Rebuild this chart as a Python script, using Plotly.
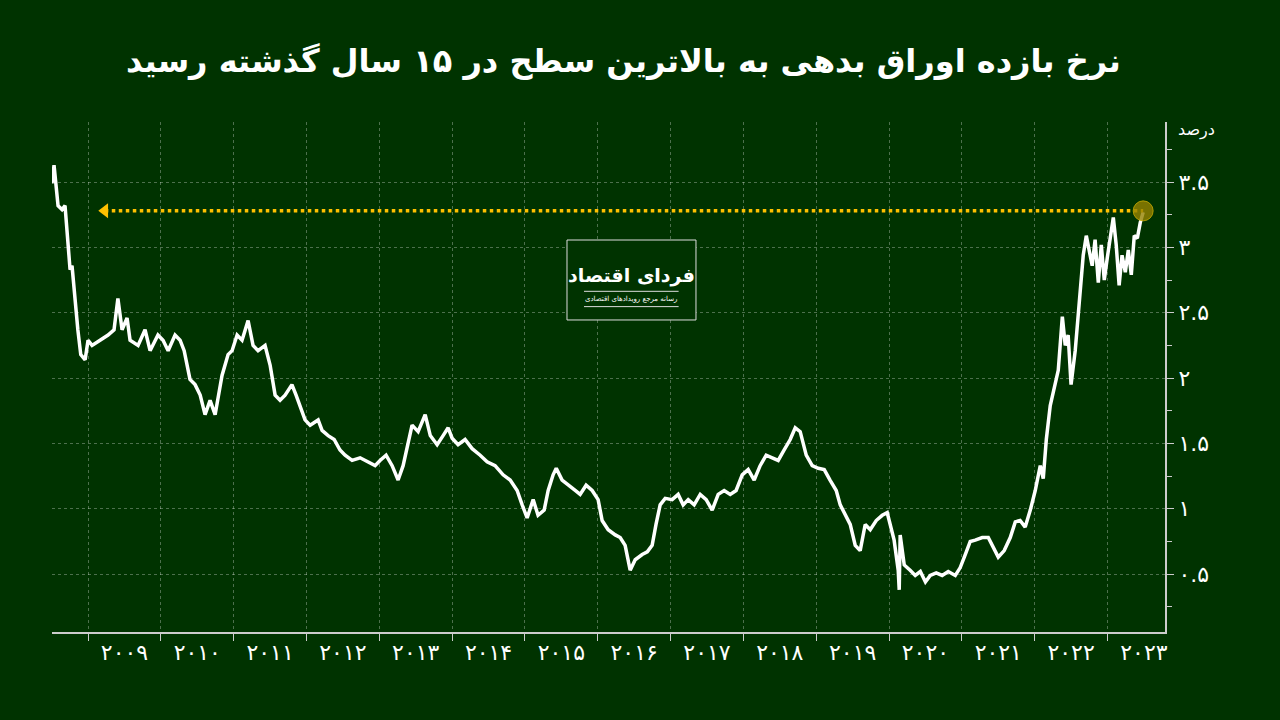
import plotly.graph_objects as go

years = [2008.505,2008.533,2008.588,2008.643,2008.684,2008.712,2008.753,2008.78,2008.82,2008.86,2008.90,2008.96,
2009.00,2009.055,2009.165,2009.275,2009.357,2009.41,2009.467,2009.536,2009.577,2009.687,2009.783,2009.852,2009.96,
2010.03,2010.10,2010.195,2010.264,2010.32,2010.40,2010.47,2010.54,2010.607,2010.676,2010.745,2010.84,2010.923,2010.978,
2011.047,2011.115,2011.198,2011.266,2011.335,2011.431,2011.50,2011.569,2011.637,2011.706,2011.80,2011.857,2011.912,2011.98,
2012.05,2012.16,2012.214,2012.297,2012.38,2012.46,2012.53,2012.626,2012.736,2012.846,2012.942,
2013.01,2013.093,2013.176,2013.258,2013.327,2013.396,2013.45,2013.533,2013.63,2013.70,2013.794,2013.876,2013.945,
2014.00,2014.082,2014.178,2014.275,2014.385,2014.48,2014.59,2014.70,2014.797,2014.893,2014.962,
2015.03,2015.113,2015.18,2015.264,2015.319,2015.387,2015.43,2015.51,2015.593,2015.69,2015.758,2015.84,2015.923,
2016.005,2016.06,2016.143,2016.24,2016.308,2016.376,2016.445,2016.514,2016.61,2016.68,2016.747,2016.80,2016.857,2016.926,
2017.022,2017.104,2017.173,2017.242,2017.324,2017.407,2017.489,2017.571,2017.654,2017.736,2017.819,2017.90,2017.984,
2018.066,2018.148,2018.23,2018.313,2018.396,2018.478,2018.56,2018.643,2018.712,2018.78,2018.863,2018.945,
2019.027,2019.11,2019.19,2019.275,2019.33,2019.398,2019.467,2019.536,2019.604,2019.673,2019.742,2019.824,2019.907,2019.975,
2020.016,2020.07,2020.126,2020.14,2020.153,2020.209,2020.29,2020.36,2020.43,2020.50,2020.566,2020.648,2020.73,2020.813,2020.91,2020.978,
2021.047,2021.115,2021.184,2021.28,2021.363,2021.418,2021.50,2021.582,2021.665,2021.734,2021.80,2021.87,2021.94,
2022.008,2022.077,2022.118,2022.16,2022.214,2022.283,2022.324,2022.38,2022.42,2022.46,2022.50,2022.557,2022.626,2022.667,
2022.709,2022.75,2022.79,2022.83,2022.874,2022.915,2022.956,2022.997,
2023.038,2023.08,2023.12,2023.16,2023.20,2023.245,2023.286,2023.327,2023.368,2023.41,2023.45,2023.49]

rates = [3.49,3.63,3.32,3.29,3.32,3.13,2.83,2.86,2.60,2.37,2.18,2.14,
2.29,2.25,2.29,2.33,2.37,2.61,2.37,2.46,2.29,2.25,2.37,2.21,2.33,
2.29,2.21,2.33,2.29,2.21,1.99,1.95,1.87,1.72,1.83,1.72,2.02,2.18,2.21,
2.33,2.29,2.44,2.25,2.21,2.25,2.10,1.87,1.83,1.87,1.95,1.87,1.79,1.68,
1.64,1.68,1.60,1.56,1.53,1.45,1.41,1.37,1.39,1.36,1.33,
1.37,1.41,1.33,1.22,1.33,1.49,1.64,1.59,1.72,1.56,1.49,1.56,1.62,
1.54,1.49,1.53,1.46,1.41,1.36,1.33,1.26,1.22,1.14,1.03,
0.93,1.07,0.95,0.99,1.14,1.26,1.31,1.22,1.18,1.14,1.11,1.18,1.14,
1.07,0.91,0.84,0.80,0.78,0.72,0.53,0.61,0.65,0.67,0.72,0.88,1.03,1.08,
1.07,1.11,1.03,1.07,1.03,1.11,1.07,0.99,1.11,1.14,1.11,1.14,1.26,
1.30,1.22,1.33,1.41,1.39,1.37,1.45,1.53,1.62,1.59,1.41,1.33,
1.31,1.30,1.22,1.14,1.03,0.95,0.88,0.72,0.68,0.88,0.84,0.91,0.95,0.97,
0.88,0.76,0.53,0.38,0.80,0.57,0.53,0.49,0.52,0.44,0.49,0.51,0.49,0.52,0.49,0.55,
0.65,0.75,0.76,0.78,0.78,0.72,0.63,0.68,0.78,0.90,0.91,0.86,0.99,
1.14,1.33,1.23,1.53,1.79,1.97,2.06,2.47,2.25,2.33,1.95,2.21,2.67,2.94,
3.09,2.98,2.86,3.06,2.73,3.02,2.75,2.92,
3.07,3.23,3.02,2.71,2.94,2.81,2.98,2.79,3.09,3.07,3.19,3.27]

ytick_vals = [0.5, 1, 1.5, 2, 2.5, 3, 3.5]
ytick_text = ["۰.۵", "۱", "۱.۵", "۲", "۲.۵", "۳", "۳.۵"]
year_labels = ["۲۰۰۹","۲۰۱۰","۲۰۱۱","۲۰۱۲","۲۰۱۳","۲۰۱۴","۲۰۱۵","۲۰۱۶","۲۰۱۷","۲۰۱۸","۲۰۱۹","۲۰۲۰","۲۰۲۱","۲۰۲۲","۲۰۲۳"]
year_vals = [2009.5 + i for i in range(len(year_labels))]
arrow_x = [2009.23, years[-1]]
arrow_y = [3.28, 3.28]

BG = "#003300"
FONT = "DejaVu Sans"
fig = go.Figure()
fig.add_trace(go.Scatter(x=years, y=rates, mode="lines",
                         line=dict(color="white", width=3.5), hoverinfo="skip"))
fig.add_trace(go.Scatter(x=arrow_x, y=arrow_y, mode="lines",
                         line=dict(color="#FFC000", width=3.5, dash="dot")))
fig.add_trace(go.Scatter(x=[arrow_x[0]], y=[arrow_y[0]], mode="markers",
                         marker=dict(symbol="triangle-left", size=13, color="#FFC000")))
fig.add_trace(go.Scatter(x=[arrow_x[1]], y=[arrow_y[1]], mode="markers",
                         marker=dict(symbol="circle", size=20, color="rgba(150,130,0,0.8)",
                                     line=dict(color="rgba(200,170,0,0.8)", width=1))))

grid = "rgba(255,255,255,0.3)"
fig.update_layout(
    width=1280, height=720, showlegend=False,
    paper_bgcolor=BG, plot_bgcolor=BG,
    margin=dict(l=52, r=115, t=122, b=88),
    font=dict(family=FONT, color="white"),
    title=dict(text="<b>نرخ بازده اوراق بدهی به بالاترین سطح در ۱۵ سال گذشته رسید</b>",
               x=0.487, xanchor="center", y=0.915, yanchor="middle",
               font=dict(size=32, color="white", family=FONT)),
    xaxis=dict(range=[2008.505, 2023.79], tickmode="array", tickvals=year_vals, ticktext=year_labels,
               ticks="", showgrid=False, zeroline=False, showline=True, linecolor="#cccccc", linewidth=2,
               tickfont=dict(size=22, color="white"),
               minor=dict(tick0=2009, dtick=1, ticks="outside", ticklen=7, tickcolor="#cccccc",
                          showgrid=True, gridcolor=grid, griddash="3px,3px", gridwidth=1)),
    yaxis=dict(range=[0.057, 3.96], side="right", tickmode="array", tickvals=ytick_vals, ticktext=ytick_text,
               ticks="outside", ticklen=7, tickcolor="#cccccc", showline=True, linecolor="#cccccc", linewidth=2,
               showgrid=True, gridcolor=grid, griddash="3px,3px", zeroline=False,
               tickfont=dict(size=22, color="white"),
               minor=dict(tick0=0, dtick=0.25, ticks="outside", ticklen=5, tickcolor="#cccccc", showgrid=False)),
    shapes=[dict(type="rect", xref="paper", yref="paper", x0=0.4627, x1=0.5786, y0=0.6118, y1=0.7686,
                 line=dict(color="#dddddd", width=1), fillcolor=BG),
            dict(type="line", xref="paper", yref="paper", x0=0.478, x1=0.563, y0=0.668, y1=0.668,
                 line=dict(color="#dddddd", width=1)),
            dict(type="line", xref="paper", yref="paper", x0=0.478, x1=0.563, y0=0.638, y1=0.638,
                 line=dict(color="#dddddd", width=1))],
    annotations=[
        dict(text="<b>فردای اقتصاد</b>", xref="paper", yref="paper", x=0.5206, y=0.672,
             xanchor="center", yanchor="bottom",
             showarrow=False, font=dict(size=19, color="white", family=FONT)),
        dict(text="رسانه مرجع رویدادهای اقتصادی", xref="paper", yref="paper", x=0.5206, y=0.653,
             xanchor="center", yanchor="middle",
             showarrow=False, font=dict(size=7, color="white", family=FONT)),
        dict(text="درصد", xref="paper", yref="paper", x=1.01, y=0.985, xanchor="left", yanchor="middle",
             showarrow=False, font=dict(size=16, color="white", family=FONT)),
    ],
)
fig.write_html("out.html", config={"displayModeBar": False},
               post_script="document.body.style.margin='0';document.body.style.background='#003300';")
